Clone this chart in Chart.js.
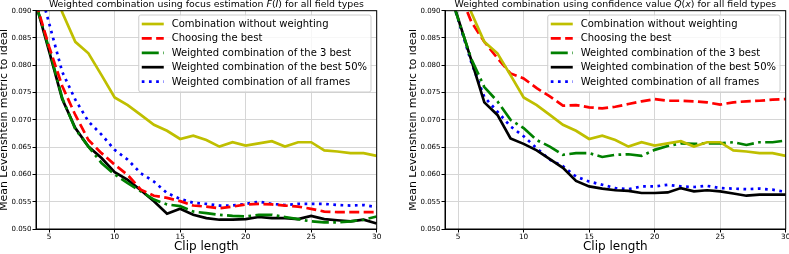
<!DOCTYPE html>
<html>
<head>
<meta charset="utf-8">
<script src="https://cdn.jsdelivr.net/npm/chart.js@4.4.1/dist/chart.umd.min.js"></script>
<style>
  body { margin: 0; background: #fff; }
  #wrap { position: relative; width: 789px; height: 254px; overflow: hidden; }
  canvas { position: absolute; top: 0; }
</style>
</head>
<body>
<div id="wrap">
  <canvas id="focusChart" width="409" height="254" style="left:0"></canvas>
  <canvas id="qualityChart" width="380" height="254" style="left:409px"></canvas>
</div>
<script>
// clip lengths
const clipLength = [4, 5, 6, 7, 8, 9, 10, 11, 12, 13, 14, 15, 16, 17, 18, 19, 20, 21, 22, 23, 24, 25, 26, 27, 28, 29, 30];
const xTicks = [5, 10, 15, 20, 25, 30];
const yTicks = [0.050, 0.055, 0.060, 0.065, 0.070, 0.075, 0.080, 0.085, 0.090];

const seriesNames = [
    "Combination without weighting",
    "Choosing the best",
    "Weighted combination of the 3 best",
    "Weighted combination of the best 50%",
    "Weighted combination of all frames"
];

// same baseline in both plots
const noWeighting = [0.105, 0.097, 0.0897, 0.0843, 0.0822, 0.0782, 0.0741, 0.0727, 0.0709, 0.0691, 0.0680, 0.0665, 0.0671, 0.0663, 0.0651, 0.0659, 0.0653, 0.0657, 0.0661, 0.0651, 0.0659, 0.0659, 0.0644, 0.0642, 0.0639, 0.0639, 0.0634];

// focus estimation F(I)
const focusBest = [0.0915, 0.0834, 0.0762, 0.0709, 0.0663, 0.0639, 0.0618, 0.0599, 0.0572, 0.0561, 0.0557, 0.0551, 0.0543, 0.0541, 0.0538, 0.0541, 0.0545, 0.0546, 0.0545, 0.0543, 0.0541, 0.0537, 0.0532, 0.0531, 0.0531, 0.0531, 0.0531];
const focusBest3 = [0.0912, 0.0830, 0.0740, 0.0683, 0.0651, 0.0621, 0.0600, 0.0584, 0.0569, 0.0554, 0.0545, 0.0542, 0.0532, 0.0529, 0.0526, 0.0524, 0.0523, 0.0526, 0.0526, 0.0522, 0.0518, 0.0514, 0.0512, 0.0512, 0.0514, 0.0517, 0.0523];
const focusBest50 = [0.0912, 0.0826, 0.0738, 0.0685, 0.0651, 0.0630, 0.0604, 0.0590, 0.0571, 0.0551, 0.0528, 0.0537, 0.0526, 0.0520, 0.0517, 0.0517, 0.0518, 0.0522, 0.0520, 0.0520, 0.0518, 0.0524, 0.0518, 0.0516, 0.0514, 0.0517, 0.0510];
const focusAll = [0.0965, 0.0877, 0.0788, 0.0737, 0.0697, 0.0673, 0.0645, 0.0627, 0.0602, 0.0587, 0.0566, 0.0555, 0.0548, 0.0546, 0.0543, 0.0543, 0.0546, 0.0550, 0.0546, 0.0544, 0.0546, 0.0546, 0.0546, 0.0544, 0.0543, 0.0544, 0.0540];

// confidence value Q(x)
const confBest = [0.105, 0.094, 0.0880, 0.0843, 0.0813, 0.0785, 0.0776, 0.0758, 0.0743, 0.0726, 0.0727, 0.0723, 0.0721, 0.0724, 0.0729, 0.0734, 0.0738, 0.0735, 0.0735, 0.0734, 0.0732, 0.0728, 0.0732, 0.0734, 0.0735, 0.0737, 0.0738];
const confBest3 = [0.096, 0.0885, 0.0812, 0.0760, 0.0734, 0.0700, 0.0685, 0.0663, 0.0651, 0.0636, 0.0639, 0.0639, 0.0632, 0.0636, 0.0637, 0.0634, 0.0645, 0.0652, 0.0657, 0.0656, 0.0657, 0.0657, 0.0659, 0.0654, 0.0659, 0.0659, 0.0662];
const confBest50 = [0.096, 0.0886, 0.0810, 0.0732, 0.0709, 0.0666, 0.0656, 0.0644, 0.0628, 0.0612, 0.0588, 0.0578, 0.0574, 0.0571, 0.0570, 0.0566, 0.0566, 0.0567, 0.0575, 0.0569, 0.0571, 0.0569, 0.0565, 0.0561, 0.0563, 0.0563, 0.0563];
const confAll = [0.096, 0.0884, 0.0806, 0.0742, 0.0715, 0.0688, 0.0670, 0.0648, 0.0627, 0.0615, 0.0596, 0.0587, 0.0581, 0.0575, 0.0573, 0.0578, 0.0578, 0.0581, 0.0578, 0.0577, 0.0579, 0.0575, 0.0574, 0.0573, 0.0574, 0.0572, 0.0568];

const FONT = "'DejaVu Sans', sans-serif";
const LW = 2.7;
const styles = [
    { color: "#bfbf00", dash: [] },
    { color: "#ff0000", dash: [10, 4.4] },
    { color: "#008000", dash: [17, 4.4, 2.7, 4.4] },
    { color: "#000000", dash: [] },
    { color: "#0000ff", dash: [2.7, 4.5] }
];

function toPoints(values) {
    return values.map((v, i) => ({ x: clipLength[i], y: v }));
}

// title (with italic math part), frame and legend drawn on the canvas
const decorPlugin = {
    id: "decor",
    afterDatasetsDraw(chart) {
        const ctx = chart.ctx;
        const area = chart.chartArea;

        // top/right spines
        ctx.save();
        ctx.strokeStyle = "#000";
        ctx.lineWidth = 1;
        ctx.strokeRect(area.left, area.top, area.right - area.left, area.bottom - area.top);
        ctx.restore();

        // title
        const parts = chart.options.plugins.decor.title;
        ctx.save();
        ctx.fillStyle = "#000";
        ctx.textBaseline = "alphabetic";
        let total = 0;
        parts.forEach((p) => {
            ctx.font = (p.italic ? "italic " : "") + "9.4px " + FONT;
            total += ctx.measureText(p.text).width;
        });
        let x = (area.left + area.right) / 2 - total / 2;
        parts.forEach((p) => {
            ctx.font = (p.italic ? "italic " : "") + "9.4px " + FONT;
            ctx.fillText(p.text, x, 6.5);
            x += ctx.measureText(p.text).width;
        });
        ctx.restore();

        // legend
        ctx.save();
        ctx.font = "10px " + FONT;
        let maxW = 0;
        chart.data.datasets.forEach((ds) => {
            maxW = Math.max(maxW, ctx.measureText(ds.label).width);
        });
        const boxW = 3 + 22 + 8 + maxW + 4;
        const boxH = 77;
        const right = area.right - 5.7;
        const left = right - boxW;
        const top = area.top + 4.3;
        ctx.fillStyle = "rgba(255,255,255,0.8)";
        ctx.strokeStyle = "#cccccc";
        ctx.lineWidth = 1;
        ctx.beginPath();
        ctx.roundRect(left, top, boxW, boxH, 2);
        ctx.fill();
        ctx.stroke();
        chart.data.datasets.forEach((ds, i) => {
            const y = top + 9 + i * 14.4;
            ctx.strokeStyle = ds.borderColor;
            ctx.lineWidth = ds.borderWidth;
            ctx.setLineDash(ds.borderDash);
            ctx.beginPath();
            ctx.moveTo(left + 3, y);
            ctx.lineTo(left + 25, y);
            ctx.stroke();
            ctx.setLineDash([]);
            ctx.fillStyle = "#000";
            ctx.textBaseline = "middle";
            ctx.fillText(ds.label, left + 33, y + 0.5);
        });
        ctx.restore();
    }
};

function makeChart(id, series, title, padRight) {
    const ctx = document.getElementById(id);
    return new Chart(ctx, {
        type: "line",
        data: {
            datasets: series.map((values, i) => ({
                label: seriesNames[i],
                data: toPoints(values),
                borderColor: styles[i].color,
                borderDash: styles[i].dash,
                borderWidth: LW,
                pointRadius: 0,
                tension: 0,
                fill: false,
                clip: 0
            }))
        },
        options: {
            responsive: false,
            animation: false,
            devicePixelRatio: 1,
            layout: { padding: { left: 0, top: 10.7, right: padRight, bottom: 0 } },
            plugins: {
                legend: { display: false },
                tooltip: { enabled: false },
                decor: { title: title }
            },
            scales: {
                x: {
                    type: "linear",
                    min: 4,
                    max: 30,
                    afterBuildTicks: (scale) => { scale.ticks = xTicks.map((v) => ({ value: v })); },
                    afterFit: (scale) => { scale.height = 25; scale.paddingLeft = 0; scale.paddingRight = 0; },
                    ticks: { font: { family: FONT, size: 7.3 }, color: "#000", padding: 0, maxRotation: 0, autoSkip: false },
                    grid: { color: "#d6d6d6", lineWidth: 1, tickColor: "#000", tickLength: 3.5 },
                    border: { color: "#000", width: 1 },
                    title: { display: true, text: "Clip length", font: { family: FONT, size: 12 }, color: "#000", padding: 0 }
                },
                y: {
                    min: 0.05,
                    max: 0.09,
                    afterBuildTicks: (scale) => { scale.ticks = yTicks.map((v) => ({ value: v })); },
                    afterFit: (scale) => { scale.width = 36; },
                    ticks: { font: { family: FONT, size: 7 }, color: "#000", padding: 1, callback: (v) => v.toFixed(3) },
                    grid: { color: "#d6d6d6", lineWidth: 1, tickColor: "#000", tickLength: 3.5 },
                    border: { color: "#000", width: 1 },
                    title: { display: true, text: "Mean Levenshtein metric to ideal", font: { family: FONT, size: 10.9, lineHeight: 0.75 }, color: "#000", padding: 0 }
                }
            }
        },
        plugins: [decorPlugin]
    });
}

makeChart("focusChart",
    [noWeighting, focusBest, focusBest3, focusBest50, focusAll],
    [
        { text: "Weighted combination using focus estimation " },
        { text: "F", italic: true },
        { text: "(" },
        { text: "I", italic: true },
        { text: ")" },
        { text: " for all field types" }
    ],
    32.3);

makeChart("qualityChart",
    [noWeighting, confBest, confBest3, confBest50, confAll],
    [
        { text: "Weighted combination using confidence value " },
        { text: "Q", italic: true },
        { text: "(" },
        { text: "x", italic: true },
        { text: ")" },
        { text: " for all field types" }
    ],
    3.3);
</script>
</body>
</html>
